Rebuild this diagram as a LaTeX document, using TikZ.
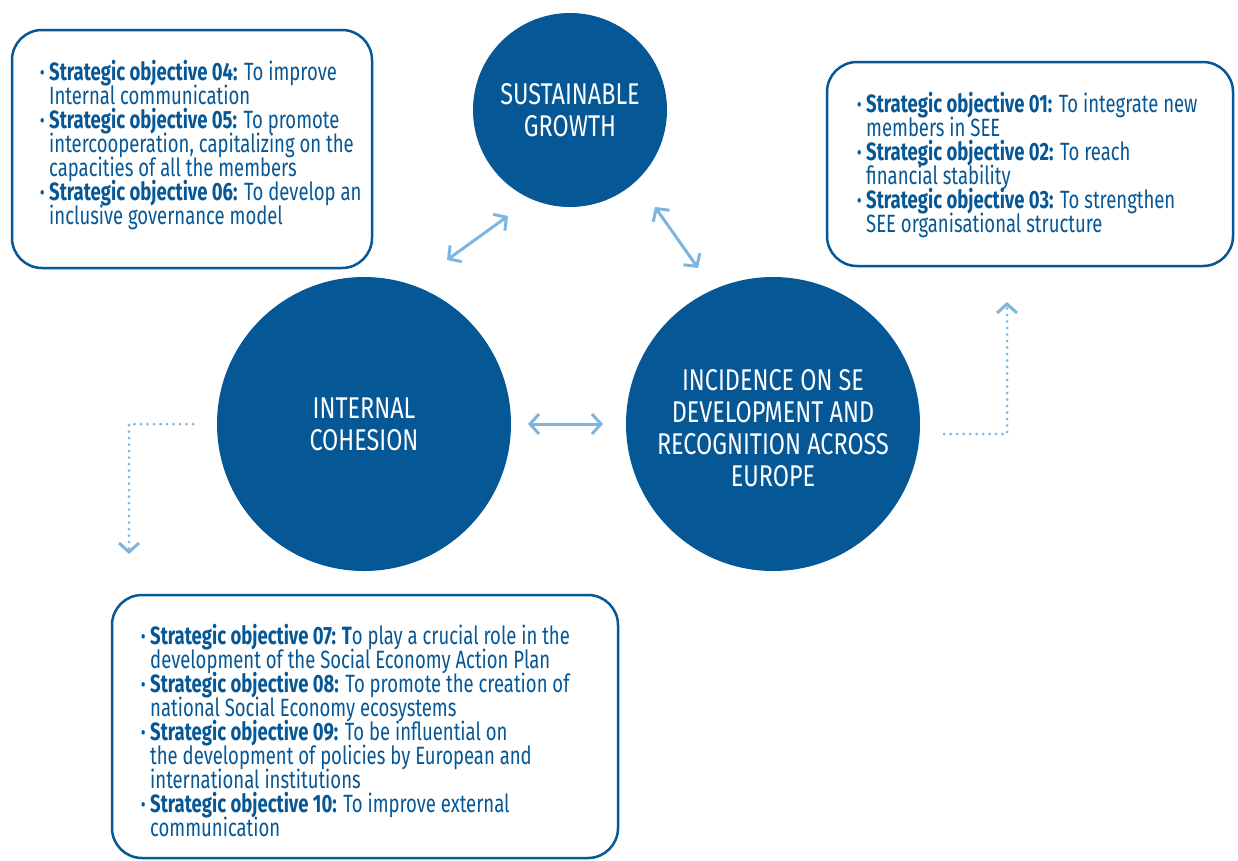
\documentclass[tikz,border=0pt]{standalone}
\usepackage{fontspec}
\setmainfont{Fira Sans}[FakeStretch=0.74]
\newfontfamily\hubfont{Fira Sans}[FakeStretch=0.78]
\usetikzlibrary{arrows.meta}
\definecolor{sdark}{RGB}{5,87,150}
\definecolor{slight}{RGB}{125,181,222}
\newcommand{\bul}{\rule{0pt}{20pt}\makebox[9pt][l]{\textbf{·}}}
\newcommand{\ind}{\hspace*{9pt}}
\setlength{\lineskiplimit}{-30pt}
\begin{document}
\begin{tikzpicture}[x=1pt,y=-1pt,
  objbox/.style={draw=sdark, line width=2.5pt, rectangle, rounded corners=30pt, inner sep=0pt},
  objtext/.style={anchor=north west, inner sep=0pt, align=left, text=sdark,
    font=\fontsize{25}{24}\selectfont},
  hub/.style={circle, fill=sdark, inner sep=0pt, text=white, align=center,
    font=\hubfont\fontsize{30}{32}\selectfont},
  hubtext/.style={inner sep=0pt, text=white, align=center,
    font=\hubfont\fontsize{30}{32}\selectfont},
  link/.style={draw=slight, line width=3pt, {Straight Barb[length=9pt,width=20pt]}-{Straight Barb[length=9pt,width=20pt]}},
  flow/.style={draw=slight, line width=3pt, line cap=round, dash pattern=on 0pt off 6.5pt,
    -{Straight Barb[length=9pt,width=20pt]}}]
\useasboundingbox (0,0) rectangle (1238,860);

% objective boxes
\node[objbox, minimum width=360pt, minimum height=238pt] (b1) at (192,149) {};
\node[objbox, minimum width=406pt, minimum height=204pt] (b2) at (1030,164) {};
\node[objbox, minimum width=506pt, minimum height=263pt] (b3) at (365,726.5) {};

\node[objtext] (t1) at (40,60) {%
\bul\textbf{Strategic objective 04:} To improve\\
\ind Internal communication\\
\bul\textbf{Strategic objective 05:} To promote\\
\ind intercooperation, capitalizing on the\\
\ind capacities of all the members\\
\bul\textbf{Strategic objective 06:} To develop an\\
\ind inclusive governance model};

\node[objtext] (t2) at (857,92) {%
\bul\textbf{Strategic objective 01:} To integrate new\\
\ind members in SEE\\
\bul\textbf{Strategic objective 02:} To reach\\
\ind financial stability\\
\bul\textbf{Strategic objective 03:} To strengthen\\
\ind SEE organisational structure};

\node[objtext] (t3) at (141,624) {%
\bul\textbf{Strategic objective 07: T}o play a crucial role in the\\
\ind development of the Social Economy Action Plan\\
\bul\textbf{Strategic objective 08:} To promote the creation of\\
\ind national Social Economy ecosystems\\
\bul\textbf{Strategic objective 09:} To be influential on\\
\ind the development of policies by European and\\
\ind international institutions\\
\bul\textbf{Strategic objective 10:} To improve external\\
\ind communication};

% hubs
\node[hub, minimum size=194pt] (sg) at (570,110) {SUSTAINABLE\\GROWTH};
\node[hub, minimum size=294pt] (ic) at (364,424) {INTERNAL\\COHESION};
\node[hub, minimum size=294pt] (ir) at (773,424) {};
\node[hubtext] (irl) at ([yshift=-4pt]ir.center) {INCIDENCE ON SE\\DEVELOPMENT AND\\RECOGNITION ACROSS\\EUROPE};

% link end points
\coordinate (a1) at (447,260);
\coordinate (a2) at (508,216);
\coordinate (c1) at (655,207);
\coordinate (c2) at (698,268);
\coordinate (h1) at (528,424);
\coordinate (h2) at (603,424);
\draw[link] (a1) -- (a2);
\draw[link] (c1) -- (c2);
\draw[link] (h1) -- (h2);

% dotted flows
\coordinate (r0) at (944,434);
\coordinate (r1) at (1007,302);
\coordinate (l0) at (193,424);
\coordinate (l1) at (129,554);
\draw[flow] (r0) -| (r1);
\draw[flow] (l0) -| (l1);
\end{tikzpicture}
\end{document}
